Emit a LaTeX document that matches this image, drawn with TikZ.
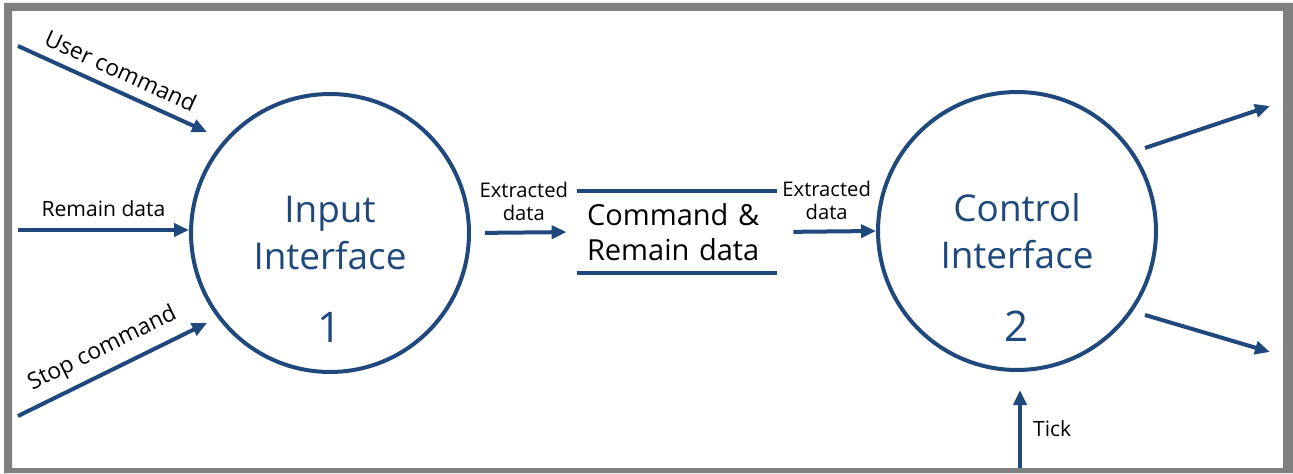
\documentclass[tikz,border=0pt]{standalone}
\usepackage{fontspec}
\setmainfont{Open Sans}
\usetikzlibrary{arrows.meta}

\definecolor{dfdblue}{RGB}{31,73,125}
\definecolor{framegray}{RGB}{127,127,127}

\begin{document}
\begin{tikzpicture}[x=0.02cm, y=-0.02cm,
    >={Triangle[length=0.3cm,width=0.26cm]},
    flow/.style={->, draw=dfdblue, line width=0.08cm},
    storeline/.style={draw=dfdblue, line width=0.08cm},
    process/.style={circle, draw=dfdblue, line width=0.08cm, minimum size=5.56cm,
        inner sep=0pt, align=center, text=dfdblue, font=\fontsize{21}{26.5}\selectfont},
    procnum/.style={text=dfdblue, font=\fontsize{24}{28}\selectfont},
    lbl/.style={font=\fontsize{12}{14}\selectfont},
    slopelbl/.style={font=\fontsize{13}{15}\selectfont},
    smalllbl/.style={font=\fontsize{11.5}{13.5}\selectfont, align=center}]
    % frame
    \fill[white] (0,0) rectangle (1293,473);
    \fill[framegray, even odd rule] (4,3) rectangle (1293,473) (12,11) rectangle (1283,468);
    \useasboundingbox (0,0) rectangle (1293,473);

    % processes and store
    \node[process] (input) at (330,233) {Input\\Interface};
    \node[procnum] (inputnum) at (330,327) {1};
    \node[process] (control) at (1017,231) {Control\\Interface};
    \node[procnum] (controlnum) at (1017,326) {2};
    \node[text width=3.6cm, inner xsep=0.2cm, minimum height=1.64cm, align=left,
        font=\fontsize{16.5}{20}\selectfont] (store) at (677,232) {Command \&\\Remain data};
    \draw[storeline] (store.north west) -- (store.north east);
    \draw[storeline] (store.south west) -- (store.south east);

    % free ends
    \coordinate (usercmd) at (18,46);
    \coordinate (usercmdend) at (207,132);
    \coordinate (remain) at (18,230);
    \coordinate (stopcmd) at (18,416);
    \coordinate (stopcmdend) at (207,323);
    \coordinate (outa) at (1145,148);
    \coordinate (outaend) at (1270,106);
    \coordinate (outb) at (1145,315);
    \coordinate (outbend) at (1270,352);
    \coordinate (tick) at (1020,468);
    \coordinate (tickend) at (1020,390);

    % flows
    \draw[flow] (usercmd) -- (usercmdend) node[midway, above=2pt, sloped, slopelbl] {User command};
    \draw[flow] (remain) -- (remain -| input.west) node[midway, above=3pt, lbl] {Remain data};
    \draw[flow] (stopcmd) -- (stopcmdend) node[midway, above=2pt, sloped, slopelbl] {Stop command};
    \draw[flow, shorten <=0.28cm, shorten >=0.2cm] (input.east) -- (store.west)
        node[midway, above=2pt, smalllbl] {Extracted\\data};
    \draw[flow, shorten <=0.32cm] (store.east) -- (control.west)
        node[midway, above=2pt, smalllbl] {Extracted\\data};
    \draw[flow] (outa) -- (outaend);
    \draw[flow] (outb) -- (outbend);
    \draw[flow] (tick) -- (tickend) node[midway, right=3pt, lbl] {Tick};
\end{tikzpicture}
\end{document}
